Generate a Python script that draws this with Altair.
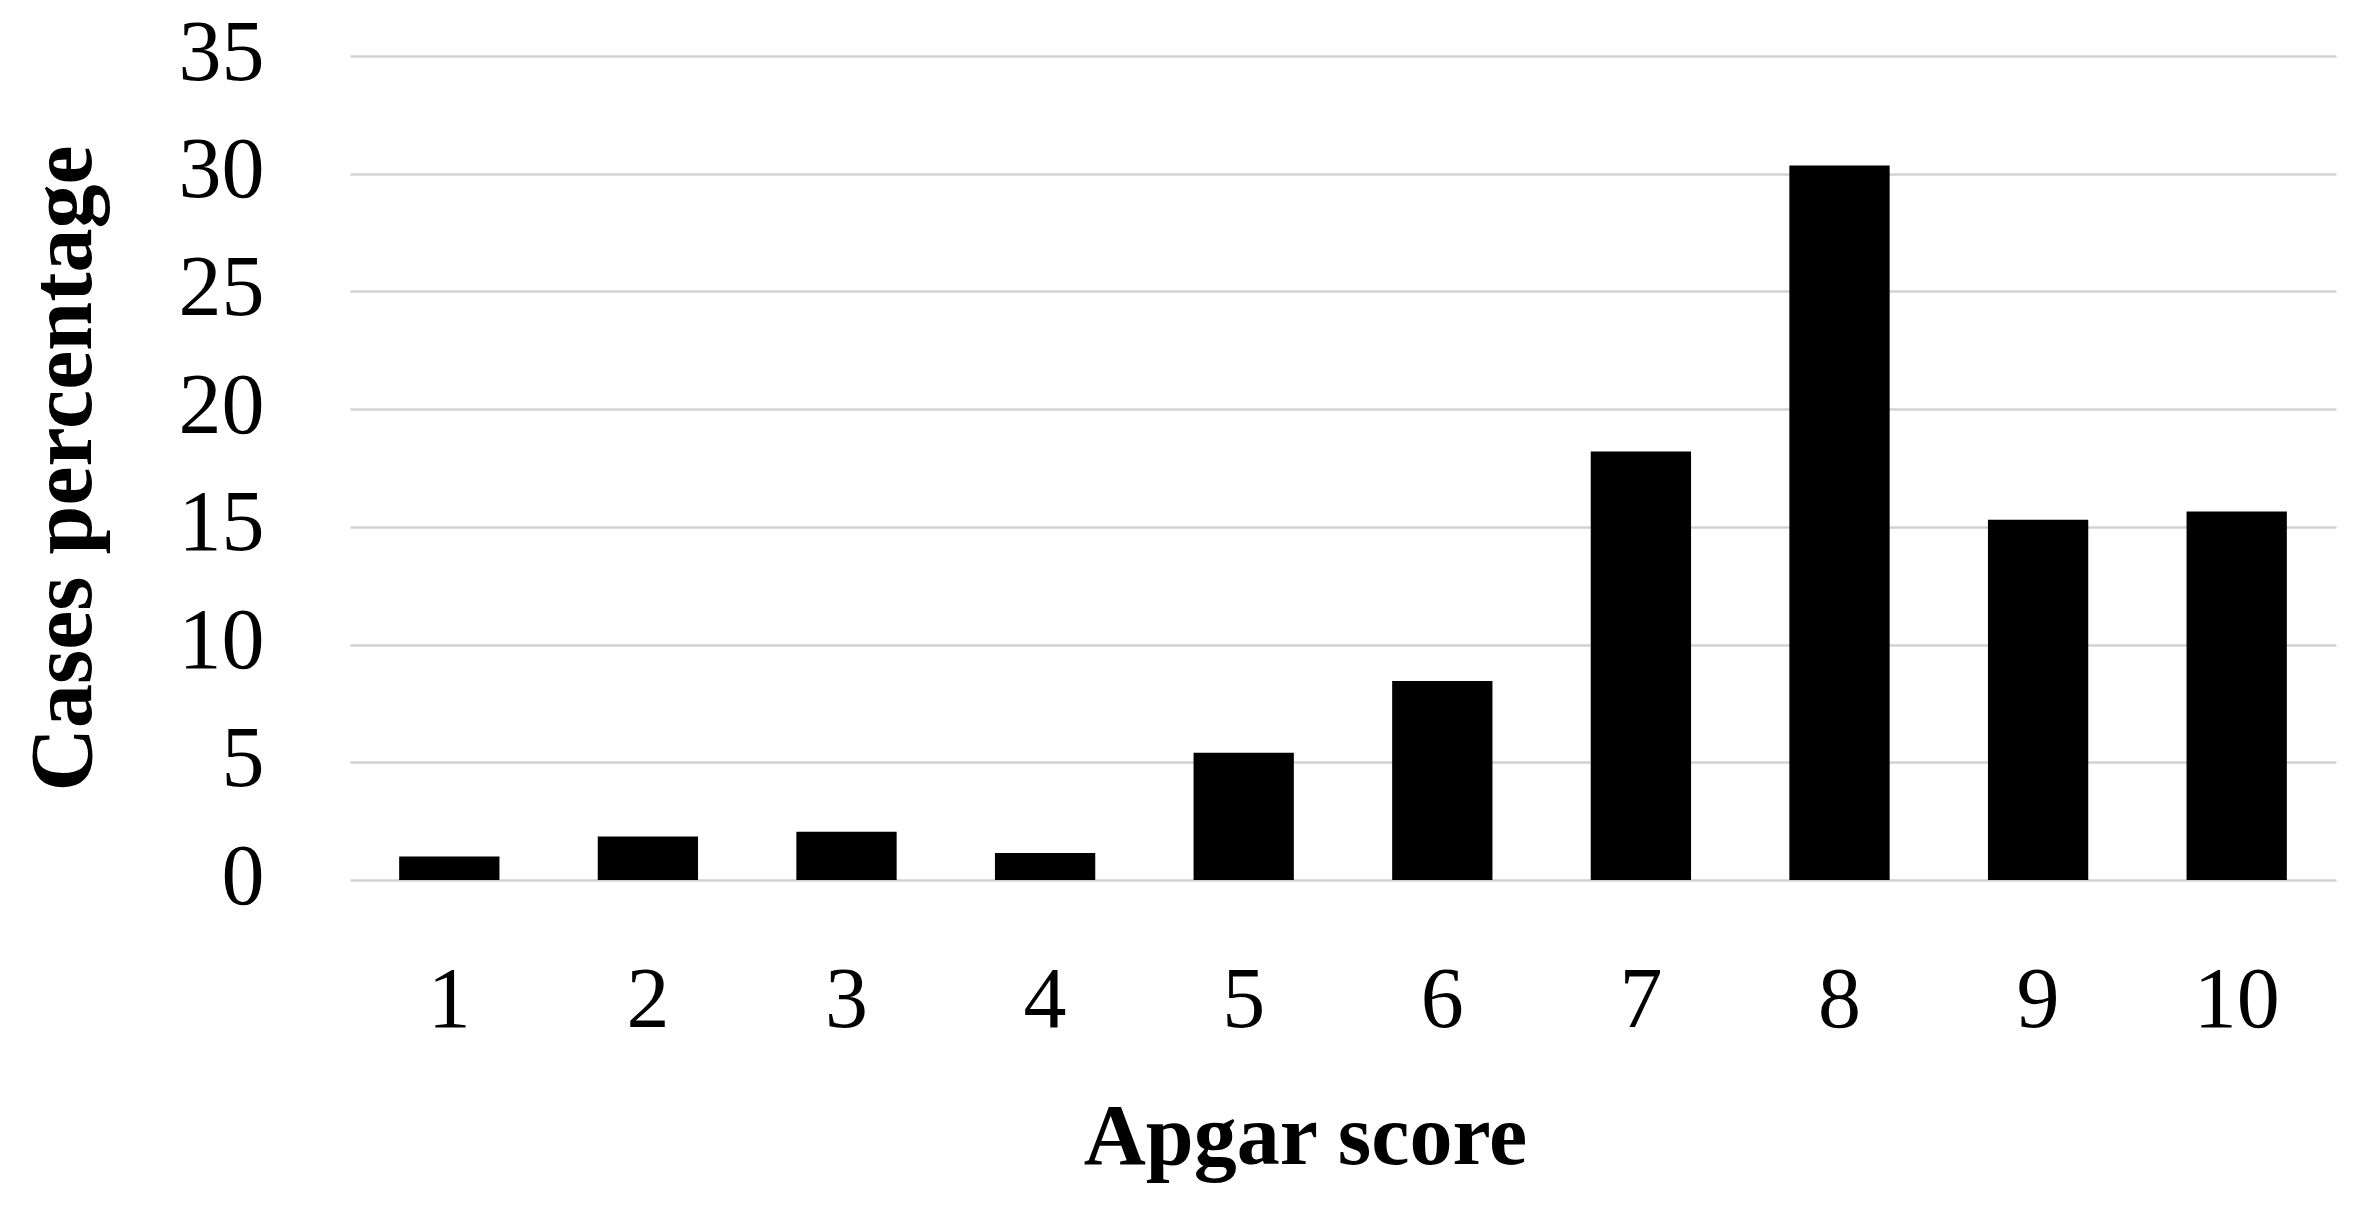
import altair as alt
import pandas as pd

scores = ["1", "2", "3", "4", "5", "6", "7", "8", "9", "10"]
percentages = [1.0, 1.85, 2.05, 1.15, 5.4, 8.45, 18.2, 30.35, 15.3, 15.65]
y_ticks = [0, 5, 10, 15, 20, 25, 30, 35]

df = pd.DataFrame({"score": scores, "pct": percentages})

FONT = "Liberation Serif"

chart = alt.Chart(df).mark_bar(color="black").encode(
    x=alt.X(
        "score:N",
        sort=scores,
        scale=alt.Scale(paddingInner=0.495, paddingOuter=0.2475),
        axis=alt.Axis(
            title="Apgar score",
            labelAngle=0,
            ticks=False,
            domain=False,
            labelPadding=78,
            labelFont=FONT,
            labelFontSize=86,
            labelColor="black",
            titleFont=FONT,
            titleFontSize=86,
            titleFontWeight="bold",
            titleColor="black",
            titleX=955,
            titleY=215,
            titleBaseline="top",
        ),
    ),
    y=alt.Y(
        "pct:Q",
        scale=alt.Scale(domain=[0, 35], nice=False),
        axis=alt.Axis(
            title="Cases percentage",
            values=y_ticks,
            ticks=False,
            domain=False,
            labelPadding=86,
            labelOffset=-3,
            labelFont=FONT,
            labelFontSize=86,
            labelColor="black",
            grid=True,
            gridColor="#d2d2d2",
            gridWidth=2.6,
            titleFont=FONT,
            titleFontSize=88,
            titleFontWeight="bold",
            titleColor="black",
            titleX=-242,
            titleBaseline="bottom",
        ),
    ),
).properties(
    width=1986,
    height=824,
    autosize=alt.AutoSizeParams(type="none"),
    padding={"left": 342, "top": 48, "right": 24, "bottom": 320},
).configure_view(stroke=None)

chart.save("out.html", embed_options={"renderer": "svg", "actions": False})
